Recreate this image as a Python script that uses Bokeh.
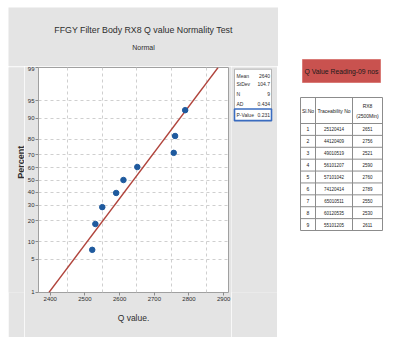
import math
from statistics import NormalDist
from bokeh.plotting import figure
from bokeh.models import Range1d, FixedTicker, Spacer, CustomJSTickFormatter
from bokeh.layouts import row, column
from bokeh.core.properties import value
from bokeh.embed import file_html
from bokeh.resources import INLINE

# ---------------- data ----------------
title_text = "FFGY Filter Body RX8 Q value Normality Test"
subtitle_text = "Normal"
y_label = "Percent"
x_label = "Q value."
table_title = "Q Value Reading-09 nos"
sl_no = [1, 2, 3, 4, 5, 6, 7, 8, 9]
trace_no = ["25120414", "44120409", "49010519", "56101207", "57101042",
            "74120414", "65010511", "60120535", "55101205"]
q_values = [2651, 2756, 2521, 2590, 2760, 2789, 2550, 2530, 2611]
plot_pct = [7.4, 18.1, 28.7, 39.4, 50.0, 60.6, 71.3, 81.9, 92.6]
pct_ticks = [1, 5, 10, 20, 30, 40, 50, 60, 70, 80, 90, 95, 99]
x_ticks = [2400, 2500, 2600, 2700, 2800, 2900]
x_grid = [2450, 2550, 2650, 2750, 2850]
stat_names = ["Mean", "StDev", "N", "AD", "P-Value"]
stat_vals = ["2640", "104.7", "9", "0.434", "0.231"]
fit_mean = 2640.0
fit_sd = 104.7

FONT = "Liberation Sans"
GREY = "#e4e4e4"
TXT = "#2e2e2e"

nd = NormalDist()
def zq(p):
    return nd.inv_cdf(p / 100.0)

ticks_z = [round(zq(t), 4) for t in pct_ticks]
z_lo, z_hi = ticks_z[0] - 0.004, ticks_z[-1] + 0.004


def blank(w, h, fill, flip=True):
    yr = Range1d(h, 0) if flip else Range1d(0, h)
    f = figure(width=w, height=h, x_range=Range1d(0, w), y_range=yr,
               output_backend="svg", toolbar_location=None,
               min_border_left=0, min_border_right=0, min_border_top=0, min_border_bottom=0)
    f.axis.visible = False
    f.grid.visible = False
    f.outline_line_color = None
    f.background_fill_color = fill
    f.border_fill_color = fill
    return f

# ---------------- title strip ----------------
pt = blank(270, 59, GREY)
pt.text([135], [22], text=[title_text], text_font=value(FONT), text_font_size="8.8px",
        text_align="center", text_baseline="middle", text_color=TXT)
pt.text([135], [40], text=[subtitle_text], text_font=value(FONT), text_font_size="7px",
        text_align="center", text_baseline="middle", text_color=TXT)

# ---------------- y label strip ----------------
pl = blank(16, 271, GREY, flip=False)
pl.text([12], [271 - 114], text=[y_label], angle=math.pi / 2, text_font=value(FONT),
        text_font_size="9px", text_font_style="bold", text_align="center",
        text_baseline="middle", text_color=TXT)

# ---------------- probability plot ----------------
p1 = figure(width=207, height=271, x_range=Range1d(2366, 2914),
            y_range=Range1d(z_lo, z_hi), output_backend="svg",
            toolbar_location=None, min_border_left=11, min_border_right=3,
            min_border_top=1, min_border_bottom=45)
p1.background_fill_color = "white"
p1.border_fill_color = GREY
p1.outline_line_color = "#a0a0a0"

label_map = ", ".join(f'"{tz:.4f}": "{t}"' for tz, t in zip(ticks_z, pct_ticks))
p1.yaxis.ticker = FixedTicker(ticks=ticks_z)
p1.yaxis.formatter = CustomJSTickFormatter(
    code="const m = {" + label_map + "}; const k = tick.toFixed(4); return (k in m) ? m[k] : '';")
p1.xaxis.ticker = FixedTicker(ticks=x_ticks)
p1.ygrid.ticker = FixedTicker(ticks=ticks_z[1:-1])
p1.xgrid.ticker = FixedTicker(ticks=x_grid)
for g in (p1.xgrid, p1.ygrid):
    g.grid_line_color = "#cfcfcf"
    g.grid_line_dash = "3 3"
    g.grid_line_width = 1

for ax in (p1.xaxis, p1.yaxis):
    ax.axis_line_color = None
    ax.major_tick_line_color = "#8a8a8a"
    ax.major_tick_out = 3
    ax.major_tick_in = 0
    ax.minor_tick_line_color = None
    ax.major_label_text_color = TXT
    ax.major_label_text_font = FONT
    ax.major_label_standoff = 1
    ax.axis_label_text_color = TXT
    ax.axis_label_text_font = FONT
    ax.axis_label_text_font_style = "normal"

p1.yaxis.major_label_text_font_size = "6px"
p1.xaxis.major_label_text_font_size = "6px"
p1.xaxis.axis_label = x_label
p1.xaxis.axis_label_text_font_size = "8.5px"
p1.xaxis.axis_label_standoff = 9

# fitted normal line
p1.line([fit_mean + fit_sd * z_lo, fit_mean + fit_sd * z_hi], [z_lo, z_hi],
        line_color="#b0443c", line_width=1.3)

# points
q_sorted = sorted(q_values)
p1.scatter(q_sorted, [zq(v) for v in plot_pct], size=5.5,
           fill_color="#1f5a9e", line_color="#1f5a9e")

# ---------------- statistics box ----------------
ps = blank(46, 271, GREY)
ps.quad(left=3, right=40, top=2, bottom=64, fill_color="white", line_color="#b4b4b4",
        line_width=1)
ps.quad(left=3, right=40, top=50, bottom=64, fill_alpha=0, line_color="#3a6cc0",
        line_width=1.6)
stat_y = [10, 20, 32, 44, 57]
ps.text([5] * 5, stat_y, text=stat_names, text_font=value(FONT), text_font_size="5px",
        text_align="left", text_baseline="middle", text_color=TXT)
ps.text([38.5] * 5, stat_y, text=stat_vals, text_font=value(FONT), text_font_size="5px",
        text_align="right", text_baseline="middle", text_color=TXT)

# ---------------- table ----------------
p2 = blank(131, 330, "white")
p2.quad(left=24, right=102, top=52, bottom=75, fill_color="#c9524f",
        line_color="#d97a76", line_width=1)
p2.text([63], [63.5], text=[table_title], text_font_size="6.8px",
        text_align="center", text_baseline="middle", text_color="#1a1a1a",
        text_font=value(FONT))

col_edges = [22, 37, 74, 104]
head_top, head_bot = 90, 116
row_h = (223 - head_bot) / len(sl_no)
row_edges = [head_bot + i * row_h for i in range(len(sl_no) + 1)]

hx = [col_edges[0], col_edges[-1]]
p2.multi_line([hx] * (len(row_edges) + 1), [[head_top, head_top]] + [[y, y] for y in row_edges],
              line_color="#8c8c8c", line_width=1)
p2.multi_line([[x, x] for x in col_edges], [[head_top, row_edges[-1]]] * len(col_edges),
              line_color="#8c8c8c", line_width=1)

cx = [(col_edges[i] + col_edges[i + 1]) / 2 for i in range(3)]
p2.text([cx[0], cx[1], cx[2], cx[2]], [103, 103, 98.5, 108.5],
        text=["Sl.No", "Traceability No", "RX8", "(2500Min)"],
        text_font_size="5px", text_align="center", text_baseline="middle",
        text_color="#1a1a1a", text_font=value(FONT))
row_c = [(row_edges[i] + row_edges[i + 1]) / 2 for i in range(len(sl_no))]
p2.text([cx[0]] * 9, row_c, text=[str(s) for s in sl_no], text_font_size="5px",
        text_align="center", text_baseline="middle", text_color="#1a1a1a",
        text_font=value(FONT))
p2.text([cx[1]] * 9, row_c, text=trace_no, text_font_size="4.5px",
        text_align="center", text_baseline="middle", text_color="#1a1a1a",
        text_font=value(FONT))
p2.text([cx[2]] * 9, row_c, text=[str(v) for v in q_values], text_font_size="4.5px",
        text_align="center", text_baseline="middle", text_color="#1a1a1a",
        text_font=value(FONT))

layout = column(Spacer(height=7),
                row(Spacer(width=8), column(pt, row(pl, p1, ps)), p2))
open("out.html", "w").write(file_html(layout, INLINE))
